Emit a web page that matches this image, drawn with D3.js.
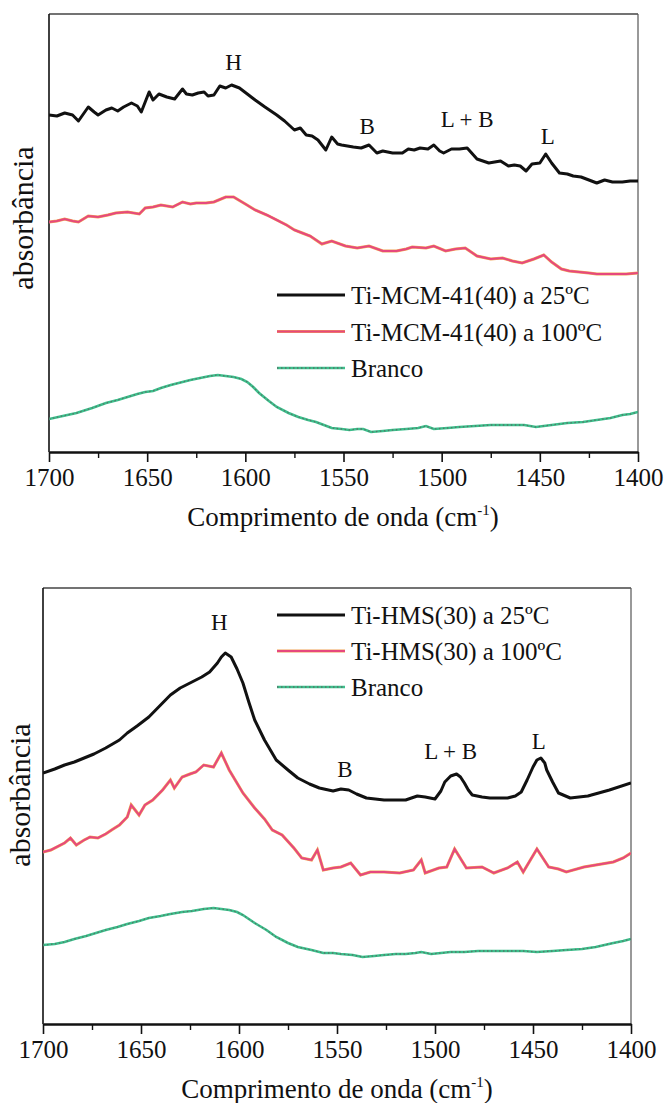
<!DOCTYPE html>
<html>
<head>
<meta charset="utf-8">
<script src="https://cdn.jsdelivr.net/npm/d3@7"></script>
<style>
  html, body { margin: 0; padding: 0; background: #fff; }
  svg { display: block; }
  svg text { font-family: "Liberation Serif", "Times New Roman", Times, "DejaVu Serif", serif !important; fill: #111; }
</style>
</head>
<body>
<svg id="chart" width="668" height="1103" font-family="Liberation Serif, serif"></svg>
<script>
// Wavenumber axis ticks (cm-1)
const xTicksMajor = [1700, 1650, 1600, 1550, 1500, 1450, 1400];
const xTicksMinor = [1675, 1625, 1575, 1525, 1475, 1425];

// ---- Ti-MCM-41(40) spectra: [wavenumber, absorbance (a.u.)] ----
const mcm25 = [
  [1700,3.37],[1696,3.36],[1692,3.39],[1688,3.37],[1685,3.31],[1680,3.45],[1677,3.40],[1675,3.37],
  [1671,3.42],[1668,3.44],[1665,3.41],[1662,3.45],[1658,3.49],[1655,3.46],[1653,3.40],[1649,3.60],
  [1647,3.52],[1644,3.58],[1640,3.55],[1636,3.53],[1632,3.63],[1630,3.58],[1627,3.57],[1624,3.59],
  [1621,3.60],[1619,3.56],[1616,3.57],[1613,3.66],[1610,3.64],[1607,3.67],[1603,3.64],[1599,3.58],
  [1595,3.52],[1590,3.45],[1584,3.37],[1580,3.31],[1575,3.22],[1572,3.24],[1569,3.17],[1566,3.16],
  [1563,3.12],[1559,3.02],[1556,3.15],[1553,3.08],[1551,3.07],[1548,3.06],[1545,3.05],[1541,3.04],
  [1537,3.07],[1533,2.99],[1530,3.01],[1525,2.99],[1520,2.99],[1517,3.03],[1514,3.02],[1511,3.04],
  [1507,3.03],[1504,3.07],[1501,3.01],[1499,2.99],[1495,3.03],[1491,3.03],[1487,3.04],[1482,2.93],
  [1476,2.89],[1473,2.90],[1470,2.91],[1466,2.86],[1463,2.87],[1460,2.86],[1457,2.81],[1454,2.88],
  [1450,2.89],[1447,2.98],[1444,2.89],[1440,2.79],[1436,2.78],[1433,2.76],[1429,2.75],[1425,2.72],
  [1421,2.69],[1417,2.72],[1413,2.70],[1408,2.70],[1404,2.71],[1400,2.71]
];
const mcm100 = [
  [1700,2.30],[1696,2.31],[1692,2.33],[1688,2.31],[1685,2.30],[1680,2.36],[1675,2.35],[1670,2.37],
  [1666,2.39],[1660,2.40],[1654,2.38],[1651,2.44],[1647,2.45],[1643,2.47],[1637,2.45],[1632,2.50],
  [1628,2.48],[1625,2.49],[1620,2.49],[1616,2.50],[1610,2.55],[1606,2.55],[1600,2.48],[1595,2.42],
  [1589,2.37],[1584,2.32],[1579,2.27],[1575,2.22],[1571,2.19],[1567,2.16],[1561,2.08],[1556,2.11],
  [1549,2.06],[1543,2.04],[1537,2.06],[1530,2.01],[1523,2.01],[1518,2.03],[1515,2.05],[1508,2.04],
  [1504,2.06],[1498,2.01],[1493,2.03],[1488,2.04],[1482,1.96],[1475,1.93],[1469,1.94],[1464,1.91],
  [1459,1.89],[1453,1.93],[1448,1.97],[1444,1.90],[1439,1.83],[1435,1.81],[1430,1.80],[1425,1.79],
  [1421,1.78],[1412,1.78],[1406,1.78],[1400,1.79]
];
const mcmBranco = [
  [1700,0.33],[1693,0.36],[1686,0.39],[1678,0.44],[1671,0.49],[1665,0.52],[1660,0.55],[1655,0.58],
  [1651,0.60],[1647,0.61],[1643,0.64],[1638,0.67],[1634,0.69],[1628,0.72],[1623,0.74],[1618,0.76],
  [1614,0.77],[1610,0.76],[1606,0.75],[1602,0.73],[1599,0.70],[1596,0.65],[1593,0.59],[1588,0.51],
  [1584,0.45],[1578,0.39],[1573,0.35],[1568,0.32],[1564,0.30],[1560,0.27],[1556,0.24],[1551,0.23],
  [1547,0.22],[1543,0.23],[1540,0.23],[1536,0.20],[1530,0.21],[1525,0.22],[1518,0.23],[1512,0.24],
  [1508,0.26],[1504,0.23],[1497,0.24],[1491,0.25],[1483,0.26],[1475,0.27],[1466,0.27],[1458,0.27],
  [1452,0.25],[1444,0.27],[1436,0.29],[1428,0.30],[1421,0.32],[1414,0.34],[1408,0.37],[1404,0.38],
  [1400,0.40]
];

// ---- Ti-HMS(30) spectra ----
const hms25 = [
  [1700,2.51],[1694,2.55],[1689,2.59],[1684,2.62],[1679,2.66],[1674,2.70],[1668,2.76],[1661,2.84],
  [1657,2.91],[1652,2.98],[1646,3.07],[1641,3.17],[1635,3.29],[1630,3.36],[1624,3.42],[1619,3.47],
  [1615,3.52],[1611,3.61],[1609,3.67],[1607,3.71],[1604,3.67],[1601,3.55],[1598,3.41],[1595,3.22],
  [1592,3.04],[1587,2.84],[1581,2.64],[1575,2.54],[1570,2.46],[1564,2.40],[1559,2.36],[1552,2.33],
  [1548,2.35],[1544,2.34],[1540,2.30],[1535,2.26],[1526,2.24],[1515,2.24],[1509,2.28],[1505,2.27],
  [1500,2.25],[1497,2.33],[1495,2.42],[1492,2.48],[1489,2.50],[1487,2.47],[1485,2.41],[1483,2.34],
  [1481,2.29],[1476,2.27],[1472,2.26],[1463,2.26],[1459,2.28],[1456,2.32],[1453,2.44],[1450,2.57],
  [1448,2.64],[1446,2.66],[1444,2.61],[1443,2.54],[1440,2.42],[1437,2.31],[1431,2.26],[1422,2.28],
  [1411,2.34],[1400,2.41]
];
const hms100 = [
  [1700,1.72],[1696,1.74],[1689,1.81],[1686,1.86],[1683,1.79],[1679,1.84],[1676,1.87],[1672,1.86],
  [1668,1.90],[1665,1.94],[1661,1.99],[1657,2.07],[1655,2.19],[1651,2.09],[1648,2.19],[1644,2.24],
  [1639,2.34],[1635,2.44],[1633,2.36],[1629,2.47],[1625,2.50],[1622,2.52],[1618,2.59],[1613,2.57],
  [1609,2.71],[1605,2.54],[1598,2.31],[1592,2.16],[1587,2.05],[1583,1.94],[1578,1.89],[1572,1.76],
  [1568,1.66],[1563,1.64],[1560,1.74],[1557,1.54],[1552,1.56],[1548,1.57],[1543,1.61],[1538,1.49],
  [1533,1.52],[1526,1.52],[1518,1.51],[1511,1.54],[1507,1.64],[1505,1.51],[1498,1.56],[1494,1.57],
  [1490,1.75],[1484,1.56],[1476,1.57],[1470,1.51],[1463,1.56],[1458,1.62],[1455,1.52],[1448,1.75],
  [1442,1.57],[1437,1.55],[1433,1.52],[1424,1.57],[1418,1.59],[1409,1.62],[1404,1.66],[1400,1.71]
];
const hmsBranco = [
  [1700,0.79],[1694,0.80],[1689,0.82],[1684,0.85],[1678,0.88],[1673,0.91],[1668,0.94],[1662,0.97],
  [1657,1.00],[1651,1.03],[1646,1.06],[1640,1.08],[1635,1.10],[1629,1.12],[1624,1.13],[1618,1.15],
  [1613,1.16],[1609,1.15],[1605,1.14],[1601,1.12],[1598,1.09],[1595,1.05],[1592,1.01],[1586,0.94],
  [1581,0.87],[1575,0.81],[1570,0.77],[1563,0.74],[1557,0.71],[1552,0.71],[1548,0.70],[1542,0.69],
  [1537,0.67],[1531,0.68],[1526,0.69],[1520,0.70],[1515,0.70],[1510,0.71],[1507,0.72],[1502,0.70],
  [1497,0.71],[1492,0.72],[1485,0.72],[1478,0.73],[1470,0.73],[1461,0.73],[1455,0.73],[1448,0.72],
  [1440,0.73],[1433,0.74],[1425,0.75],[1418,0.77],[1409,0.81],[1404,0.83],[1400,0.85]
];

// Legend entries and band labels
const mcmLegend = ["Ti-MCM-41(40) a 25ºC", "Ti-MCM-41(40) a 100ºC", "Branco"];
const hmsLegend = ["Ti-HMS(30) a 25ºC", "Ti-HMS(30) a 100ºC", "Branco"];
const mcmBands = [["H",1606,3.82],["B",1538,3.18],["L + B",1487,3.25],["L",1446,3.08]];
const hmsBands = [["H",1610,3.94],["B",1546,2.47],["L + B",1492,2.65],["L",1447,2.75]];

const SERIF = "'Liberation Serif', 'Times New Roman', Times, 'DejaVu Serif', serif";
const svg = d3.select("#chart");

function drawPanel(cfg) {
  const x = d3.scaleLinear().domain([1700, 1400]).range([cfg.left, cfg.right]);
  const y = d3.scaleLinear().domain([0, cfg.ymax]).range([cfg.bottom, cfg.top]);
  const g = svg.append("g").attr("font-family", SERIF);

  // frame: top and right edges thin, left axis dark
  g.append("line").attr("x1", cfg.left).attr("x2", cfg.right).attr("y1", cfg.top).attr("y2", cfg.top)
    .attr("stroke", "#444").attr("stroke-width", 1.4);
  g.append("line").attr("x1", cfg.right).attr("x2", cfg.right).attr("y1", cfg.top).attr("y2", cfg.bottom)
    .attr("stroke", "#555").attr("stroke-width", 1.2);
  g.append("line").attr("x1", cfg.left).attr("x2", cfg.left).attr("y1", cfg.top).attr("y2", cfg.bottom)
    .attr("stroke", "#111").attr("stroke-width", 1.6);

  // bottom axis
  const axis = d3.axisBottom(x).tickValues(xTicksMajor).tickSize(10).tickSizeOuter(0).tickPadding(6)
    .tickFormat(d3.format("d"));
  const ax = g.append("g").attr("transform", `translate(0,${cfg.bottom})`).call(axis)
    .attr("font-family", SERIF).attr("font-size", 25);
  ax.select(".domain").attr("stroke", "#111").attr("stroke-width", 2.6);
  ax.selectAll(".tick line").attr("stroke", "#111").attr("stroke-width", 1.6);
  ax.selectAll(".tick text").attr("fill", "#111");
  const axMinor = d3.axisBottom(x).tickValues(xTicksMinor).tickSize(6).tickFormat("");
  const am = g.append("g").attr("transform", `translate(0,${cfg.bottom})`).call(axMinor);
  am.select(".domain").remove();
  am.selectAll(".tick line").attr("stroke", "#111").attr("stroke-width", 1.4);

  // axis titles
  const t = g.append("text").attr("x", cfg.titleX).attr("y", cfg.bottom + 74)
    .attr("text-anchor", "middle").attr("font-size", 27);
  t.append("tspan").text("Comprimento de onda (cm");
  t.append("tspan").text("-1").attr("font-size", 15).attr("dy", -11);
  t.append("tspan").text(")").attr("dy", 11);

  g.append("text").attr("transform", `translate(${cfg.ylabX},${cfg.ylabY}) rotate(-90)`)
    .attr("text-anchor", "middle").attr("font-size", 30).text("absorbância");

  // spectra
  const line = d3.line().x(d => x(d[0])).y(d => y(d[1]));
  const clipId = "clip" + cfg.id;
  g.append("clipPath").attr("id", clipId).append("rect")
    .attr("x", cfg.left).attr("y", cfg.top).attr("width", cfg.right - cfg.left).attr("height", cfg.bottom - cfg.top);
  const plot = g.append("g").attr("clip-path", `url(#${clipId})`);

  const drawGreen = (sel, pts) => {
    sel.append("path").attr("d", pts).attr("fill", "none").attr("stroke", "#3cc08c").attr("stroke-width", 2.6);
    sel.append("path").attr("d", pts).attr("fill", "none").attr("stroke", "#5e5e5e")
      .attr("stroke-width", 1.3).attr("stroke-dasharray", "1.5,2.5").attr("opacity", 0.75);
  };
  const drawRed = (sel, pts) => {
    sel.append("path").attr("d", pts).attr("fill", "none").attr("stroke", "#f0a255").attr("stroke-width", 3);
    sel.append("path").attr("d", pts).attr("fill", "none").attr("stroke", "#e6487e").attr("stroke-width", 2);
  };
  const drawBlack = (sel, pts) => {
    sel.append("path").attr("d", pts).attr("fill", "none").attr("stroke", "#111")
      .attr("stroke-width", 3).attr("stroke-linejoin", "round");
  };

  drawGreen(plot, line(cfg.series[2]));
  drawRed(plot, line(cfg.series[1]));
  drawBlack(plot, line(cfg.series[0]));

  // band labels
  cfg.bands.forEach(b => {
    g.append("text").attr("x", x(b[1])).attr("y", y(b[2])).attr("text-anchor", "middle")
      .attr("font-size", 23).text(b[0]);
  });

  // legend
  const drawers = [drawBlack, drawRed, drawGreen];
  cfg.legend.forEach((name, i) => {
    const ly = cfg.legY + i * cfg.legGap;
    const seg = d3.line()([[277, ly], [345, ly]]);
    drawers[i](g, seg);
    g.append("text").attr("x", 351).attr("y", ly + 9).attr("font-size", 25).text(name);
  });
}

drawPanel({
  id: "mcm", left: 49, right: 638, top: 14, bottom: 452, ymax: 4.38,
  series: [mcm25, mcm100, mcmBranco], bands: mcmBands, legend: mcmLegend,
  legY: 295, legGap: 36.5, titleX: 343, ylabX: 33, ylabY: 218
});
drawPanel({
  id: "hms", left: 43, right: 631, top: 588, bottom: 1024, ymax: 4.36,
  series: [hms25, hms100, hmsBranco], bands: hmsBands, legend: hmsLegend,
  legY: 615, legGap: 36, titleX: 337, ylabX: 30, ylabY: 795
});
</script>
</body>
</html>
